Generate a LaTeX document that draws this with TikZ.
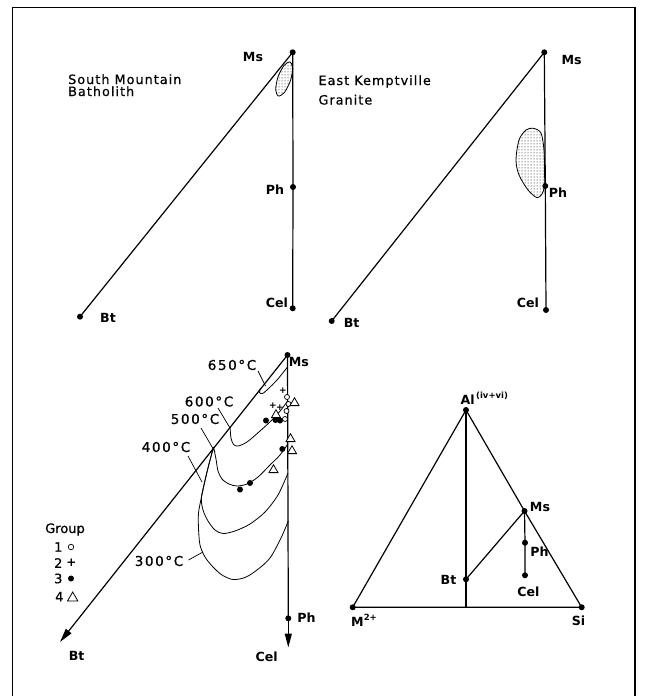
\documentclass[tikz,border=0pt]{standalone}
\usepackage{fontspec}
\setmainfont{DejaVu Sans}
\newfontfamily\spaced[LetterSpace=8,FakeBold=0.7]{DejaVu Sans}
\newfontfamily\tspaced[LetterSpace=12,FakeBold=0.7]{DejaVu Sans}
\newfontfamily\lgdfont[FakeBold=0.7]{DejaVu Sans}
\usetikzlibrary{arrows.meta,patterns,shapes.geometric}
\tikzset{
 dot/.style={circle,fill=black,inner sep=0pt,minimum size=6pt},
 lbl/.style={font=\bfseries\fontsize{12.6}{13}\selectfont,inner sep=0pt},
 ttl/.style={font=\spaced\fontsize{12.8}{14}\selectfont,anchor=base west,inner sep=0pt},
 tmp/.style={font=\tspaced\fontsize{13.5}{14}\selectfont,inner sep=0pt},
 lgd/.style={font=\lgdfont\fontsize{13}{14}\selectfont,inner sep=0pt},
 main/.style={line width=1.2pt},
 iso/.style={line width=0.8pt},
 lead/.style={line width=0.7pt},
 stip/.style={line width=0.8pt,fill=white,postaction={pattern=dots}},
 gA/.style={circle,draw,fill=white,line width=0.7pt,inner sep=0pt,minimum size=5pt},
 gB/.style={font=\bfseries\fontsize{9}{9}\selectfont,inner sep=0pt},
 gC/.style={circle,fill=black,inner sep=0pt,minimum size=6pt},
 gD/.style={regular polygon,regular polygon sides=3,draw,fill=white,line width=0.8pt,inner sep=0pt,minimum size=10.5pt},
 arr/.style={-{Triangle[length=14pt,width=7pt]}}
}
\begin{document}
\begin{tikzpicture}[x=1pt,y=-1pt]
\useasboundingbox (0,0) rectangle (645,696);
% frame
\draw[line width=1.4pt] (12.7,696) -- (12.7,7.3) -- (635,7.3) -- (635,696);

% ---------- top-left panel ----------
\draw[stip] plot[smooth cycle] coordinates {(290.0,62.0) (292.7,68.5) (290.3,81.1) (284.4,92.5) (278.4,96.0) (275.7,89.6) (278.0,76.9) (284.0,65.5)};
\node[dot] (tlMs) at (292.7,52.3) {};
\node[dot] (tlBt) at (80,316.7) {};
\node[dot] (tlPh) at (293,187) {};
\node[dot] (tlCel) at (292.7,308.3) {};
\draw[main] (tlBt.center) -- (tlMs.center) -- (tlPh.center) -- (tlCel.center);
\node[lbl] (tlMsL) at (253,57) {Ms};
\node[lbl] (tlPhL) at (275,190) {Ph};
\node[lbl] (tlCelL) at (277,303) {Cel};
\node[lbl] (tlBtL) at (108,317.5) {Bt};
\node[ttl] (tlT1) at (68,84) {South Mountain};
\node[ttl] (tlT2) at (68,96) {Batholith};

% ---------- top-right panel ----------
\draw[stip] plot[smooth cycle] coordinates {(533.3,128.3) (541,133) (544,150) (544.5,170) (544.5,186) (542,194) (537,197.7) (528,190) (519,175) (516,160) (519,140) (526,130)};
\node[dot] (trMs) at (544.3,52.3) {};
\node[dot] (trBt) at (331.7,321) {};
\node[dot] (trPh) at (545.3,186) {};
\node[dot] (trCel) at (546,310) {};
\draw[main] (trBt.center) -- (trMs.center) -- (trPh.center) -- (trCel.center);
\node[lbl] (trMsL) at (571.7,60) {Ms};
\node[lbl] (trPhL) at (558,193) {Ph};
\node[lbl] (trCelL) at (528,303) {Cel};
\node[lbl] (trBtL) at (351.7,322.7) {Bt};
\node[ttl] (trT1) at (318.3,85) {East Kemptville};
\node[ttl] (trT2) at (318.3,104.5) {Granite};

% ---------- bottom-left panel ----------
\node[dot] (blMs) at (287.5,355) {};
\coordinate (blBt) at (60,642);
\node[dot] (blPh) at (288.3,618.3) {};
\coordinate (blCel) at (288.3,647.5);
\draw[main,arr] (blMs.center) -- (blBt);
\draw[main] (blMs.center) -- (blPh.center);
\draw[main,arr] (blPh.center) -- (blCel);
\node[lbl] (blMsL) at (298.8,362) {Ms};
\node[lbl] (blPhL) at (306.5,617.5) {Ph};
\node[lbl] (blCelL) at (266.7,656.7) {Cel};
\node[lbl] (blBtL) at (76.7,656) {Bt};

% isotherms
\draw[iso] plot[smooth] coordinates {(260.5,388) (259.5,392.5) (262.5,393.5) (267,390) (277,380) (287.5,367)};
\draw[iso] plot[smooth] coordinates {(230,427) (231,438) (233.5,444.5) (238,446) (247,442) (260,431) (273,419) (281,410) (287.6,401)};
\draw[iso] plot[smooth] coordinates {(213.5,447) (216,459) (218,471) (222,479) (229,484) (237,486) (247,484) (258,477) (270,465) (280,455) (287.8,444)};
\draw[iso] plot[smooth] coordinates {(213.5,447) (207,472) (201.5,497) (203,510) (208,521) (215,530) (223,533.5) (235,531) (250,524) (265,512) (278,495) (288,473)};
\draw[iso] plot[smooth] coordinates {(213.5,447) (207,472) (201.5,497) (198.5,513) (198.5,528) (200,545) (205,557) (213,567) (222,575) (233,579.5) (245,577.5) (257,570) (270,558) (281,538) (288.3,521)};

% temperature labels and leaders
\node[tmp] (t650) at (232,365) {650°C};
\node[tmp] (t600) at (209,401.5) {600°C};
\node[tmp] (t500) at (195,419) {500°C};
\node[tmp] (t400) at (166,447) {400°C};
\node[tmp] (t300) at (159,561) {300°C};
\coordinate (e650) at (265.5,386);
\coordinate (e600) at (230,428);
\coordinate (e500) at (215,452);
\coordinate (e400) at (202,482);
\coordinate (e300) at (203,552);
\draw[lead] (258,371) -- (e650);
\draw[lead] (218,408) -- (e600);
\draw[lead] (201,428) -- (e500);
\draw[lead] (188,456) -- (e400);
\draw[lead] (188.5,560) -- (e300);

% data points
\node[gB] (p1) at (283,390.5) {+};
\node[gB] (p2) at (273,406) {+};
\node[gB] (p3) at (280,408) {+};
\node[gA] (c1) at (287,397) {};
\node[gA] (c2) at (288.5,404) {};
\node[gA] (c3) at (286.5,411) {};
\node[gA] (c4) at (285,419) {};
\node[gC] (d1) at (266,420.5) {};
\node[gC] (d2) at (275.5,420) {};
\node[gC] (d3) at (280,420.5) {};
\node[gC] (d4) at (282.3,449) {};
\node[gC] (d5) at (240,489.5) {};
\node[gC] (d6) at (250,483) {};
\node[gD] (q1) at (294.5,403) {};
\node[gD] (q2) at (276,415) {};
\node[gD] (q3) at (290.5,439) {};
\node[gD] (q4) at (292,451) {};
\node[gD] (q5) at (273.5,470) {};

% legend
\node[lgd] (lgG) at (65,529.5) {Group};
\node[lgd] (lg1) at (58.3,547) {1};
\node[lgd] (lg2) at (58.3,563) {2};
\node[lgd] (lg3) at (58.3,578.5) {3};
\node[lgd] (lg4) at (59.3,596.7) {4};
\node[gA,minimum size=5.5pt] (lgS1) at (71,547) {};
\node[gB,font=\bfseries\fontsize{12}{12}\selectfont] (lgS2) at (71.5,563) {+};
\node[gC,minimum size=6pt] (lgS3) at (71,578.5) {};
\node[gD,minimum size=12pt] (lgS4) at (72.7,598) {};

% ---------- bottom-right triangle ----------
\node[dot] (Al) at (466,410) {};
\node[dot] (Mg) at (352.7,607.3) {};
\node[dot] (Si) at (581.7,607.3) {};
\node[dot] (brMs) at (524.5,511) {};
\node[dot] (brPh) at (525,542.7) {};
\node[dot] (brCel) at (525,575.3) {};
\node[dot] (brBt) at (466,579.3) {};
\coordinate (base) at (466,607.3);
\draw[main] (Mg.center) -- (Al.center) -- (brMs.center) -- (Si.center) -- (Mg.center);
\draw[main] (Al.center) -- (brBt.center) -- (base);
\draw[main] (brBt.center) -- (brMs.center) -- (brPh.center) -- (brCel.center);
\node[lbl,anchor=west] (AlL) at (460.5,398) {Al\raisebox{0.9ex}{\fontsize{8.5}{9}\selectfont\,(iv+vi)}};
\node[lbl] (MgL) at (364,620) {M\raisebox{0.9ex}{\fontsize{8.5}{9}\selectfont 2+}};
\node[lbl] (SiL) at (578.5,621) {Si};
\node[lbl] (brMsL) at (540,507) {Ms};
\node[lbl] (brPhL) at (539.5,551.5) {Ph};
\node[lbl] (brBtL) at (448.5,579.5) {Bt};
\node[lbl] (brCelL) at (528.5,592) {Cel};
\end{tikzpicture}
\end{document}
